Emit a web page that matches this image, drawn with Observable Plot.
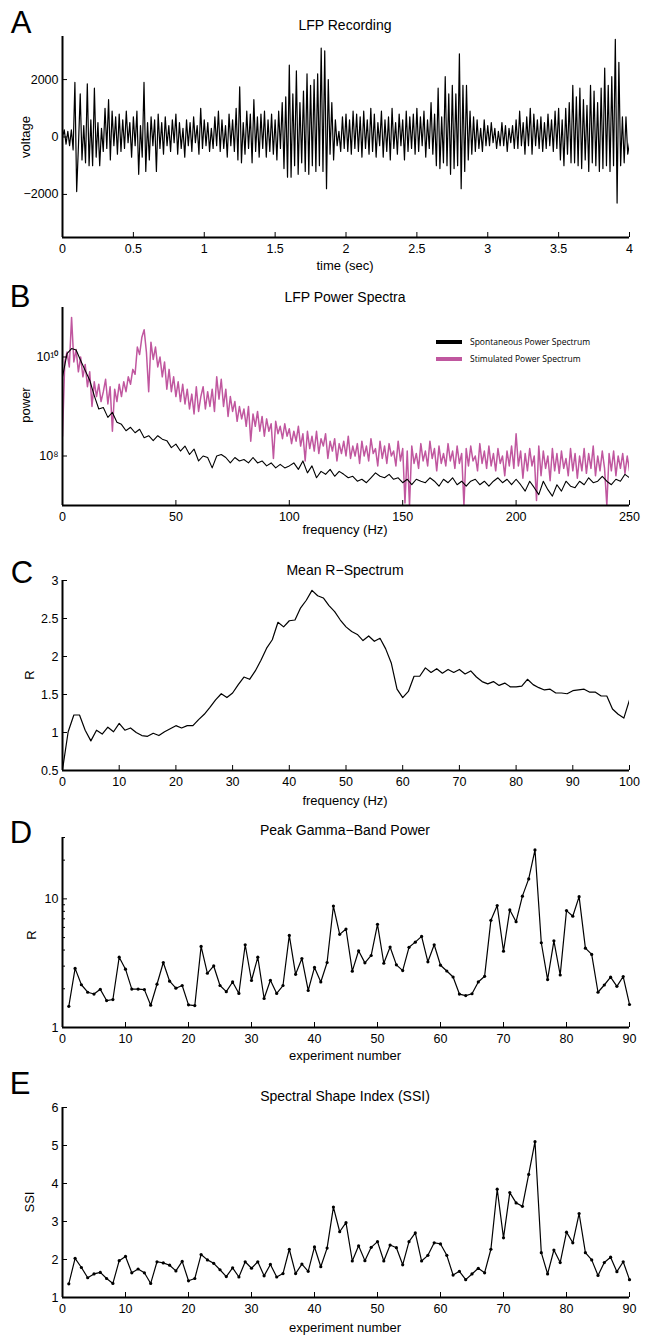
<!DOCTYPE html>
<html><head><meta charset="utf-8">
<script src="https://cdn.jsdelivr.net/npm/d3@7"></script>
<script src="https://cdn.jsdelivr.net/npm/@observablehq/plot@0.6"></script>
<style>
body{margin:0;background:#fff;}
#root{position:relative;width:655px;height:1335px;font-family:"Liberation Sans",Arial,sans-serif;color:#000;overflow:hidden;background:#fff}
.t{position:absolute;white-space:nowrap;transform:translate(-50%,-50%);line-height:1}
.sw{position:absolute;height:4px;width:26px}
</style></head><body><div id="root"></div>
<script>
// ---------- Panel A: LFP recording (voltage samples every 0.0125 s) ----------
const lfpStep = 0.0125;
const lfpVoltage = [
  0,250,-250,200,-300,250,-450,1900,
  -1900,-300,1500,-800,400,-900,1850,-1000,
  600,-1000,1700,-700,500,-1000,300,-500,
  1000,-400,1300,-800,900,-300,700,-600,
  800,-500,600,-400,900,-200,500,-700,
  700,-300,900,-1300,400,-700,1900,-1200,
  500,-800,700,-300,600,-1200,800,-400,
  500,-600,700,-300,400,-500,600,-200,
  800,-600,500,-400,300,-700,600,-300,
  500,-500,700,-200,400,-600,1000,-400,
  600,-300,500,-500,300,-400,700,-300,
  900,-500,600,-400,400,-700,800,-300,
  600,-500,1000,-800,1750,-900,500,-600,
  900,-400,800,-900,1300,-500,700,-700,
  800,-400,900,-700,600,-500,800,-600,
  600,-800,900,-400,1200,-1100,1400,-1400,
  2500,-1400,1500,-1000,2300,-1300,1200,-900,
  1600,-1200,2200,-1300,1800,-1000,2000,-1200,
  2200,-1000,3100,-1200,3000,-1800,2000,-600,
  1200,-800,600,-300,200,-500,700,-400,
  800,-500,600,-600,900,-400,800,-500,
  700,-700,900,-400,600,-600,1000,-500,
  800,-700,500,-300,900,-700,600,-500,
  700,-800,1000,-400,500,-600,800,-300,
  600,-800,900,-500,700,-400,800,-600,
  1000,-500,700,-300,900,-700,600,-400,
  1200,-600,800,-1000,1700,-1100,700,-900,
  2100,-1000,1500,-1300,1800,-1100,1500,-1000,
  2900,-1800,1800,-1200,1800,-800,900,-600,
  700,-500,600,-400,300,-500,600,-300,
  400,-300,500,-200,300,-400,200,-300,
  500,-300,400,-500,300,-200,400,-400,
  600,-400,900,-300,500,-600,700,-300,
  1000,-600,800,-300,600,-400,700,-500,
  500,-400,800,-300,600,-500,900,-400,
  1000,-800,600,-1000,1000,-600,1200,-900,
  1800,-900,1400,-1000,1700,-1100,1300,-800,
  1100,-1200,1800,-900,1600,-1000,1200,-1200,
  1700,-1100,2400,-1000,1800,-1200,2100,-1000,
  3400,-2300,2600,-1000,700,-900,700,-600,
  -200
];
const aTimeTicks = [0,0.5,1,1.5,2,2.5,3,3.5,4];
const aVoltTicks = [-2000,0,2000];

// ---------- Panel B: power spectra (log10 of power) ----------
const spontStepHz = 2;
const spontLog10 = [
  9.6,10.07,10.17,10.14,9.93,9.73,9.53,9.22,8.95,8.98,
  8.78,8.88,8.68,8.64,8.51,8.58,8.47,8.54,8.37,8.41,
  8.31,8.41,8.34,8.31,8.17,8.24,8.1,8.2,8.03,8.14,
  7.9,8.0,7.97,7.76,8.0,8.03,7.97,7.86,7.97,7.9,
  7.93,7.86,7.97,7.86,7.9,7.8,7.86,7.76,7.83,7.76,
  7.8,7.86,7.73,7.9,7.66,7.8,7.56,7.69,7.63,7.73,
  7.59,7.69,7.63,7.56,7.59,7.49,7.53,7.46,7.56,7.66,
  7.59,7.56,7.63,7.53,7.56,7.46,7.53,7.42,7.53,7.49,
  7.46,7.56,7.49,7.39,7.53,7.46,7.56,7.42,7.49,7.39,
  7.49,7.53,7.42,7.49,7.39,7.49,7.56,7.46,7.53,7.42,
  7.53,7.42,7.29,7.49,7.36,7.22,7.49,7.32,7.19,7.42,
  7.29,7.49,7.39,7.36,7.49,7.42,7.56,7.46,7.49,7.59,
  7.49,7.42,7.53,7.49,7.63,7.56
];
const stimStepHz = 1;
const stimLog10 = [
  8.4,9.9,10.1,9.8,10.8,9.9,10.15,9.7,10.0,9.6,
  9.85,9.4,9.7,9.0,9.5,9.2,9.45,9.1,9.3,9.55,
  9.05,9.4,8.5,9.35,9.1,9.45,9.2,9.5,9.3,9.6,
  9.45,9.75,9.65,10.2,10.05,10.4,10.55,10.1,9.3,10.3,
  9.95,10.2,9.8,10.0,9.6,9.9,9.35,9.75,9.3,9.6,
  9.2,9.5,9.1,9.45,9.05,9.35,8.95,9.25,8.85,9.4,
  8.9,9.2,9.4,8.95,9.3,9.0,9.35,8.9,9.6,9.15,
  9.55,9.0,9.35,8.8,9.2,8.9,9.1,8.7,9.0,8.75,
  8.95,8.6,9.0,8.3,8.85,8.6,8.9,8.5,8.8,8.4,
  8.75,8.5,8.65,7.95,8.7,8.45,8.6,8.35,8.65,8.4,
  8.55,8.25,8.5,8.3,8.6,8.2,8.45,7.9,8.5,8.15,
  8.4,8.1,8.5,8.05,8.35,8.2,8.45,7.95,8.3,8.1,
  8.35,7.9,8.25,8.05,8.3,8.0,8.4,7.95,8.2,8.0,
  8.25,7.85,8.3,8.0,8.2,7.9,8.35,8.05,8.15,7.8,
  8.3,7.95,8.2,7.85,8.25,8.0,8.1,7.8,8.3,7.9,
  8.15,7.05,8.1,7.0,8.2,7.85,8.05,7.75,8.25,7.9,
  8.1,7.8,8.3,7.95,8.15,7.7,8.2,7.85,8.05,7.8,
  8.25,7.9,8.1,7.75,8.2,7.85,8.05,7.0,8.15,7.8,
  8.2,7.9,8.0,7.7,8.25,7.85,8.1,7.75,8.2,7.8,
  8.05,7.7,8.15,7.85,8.0,7.6,8.1,7.8,8.2,7.75,
  8.45,7.8,8.1,7.55,8.05,7.7,8.15,7.8,8.0,7.1,
  8.2,7.6,8.1,7.75,8.0,7.5,8.15,7.7,8.05,7.65,
  8.1,7.75,7.95,7.6,8.15,7.7,8.05,7.55,8.0,7.7,
  8.15,7.65,8.05,7.75,8.2,7.6,8.0,7.7,8.1,7.75,
  7.0,8.05,7.7,8.1,7.6,8.0,7.75,8.05,7.65,8.0,7.7
];
const bFreqTicks = [0,50,100,150,200,250];
const bPowerTicks = [1e8,1e10];
const bPowerLabels = ["10\u2078","10\u00b9\u2070"];
const legendNames = ["Spontaneous Power Spectrum","Stimulated Power Spectrum"];
const legendColors = ["#000000","#c0579f"];

// ---------- Panel C: mean R-spectrum, 1 Hz bins 0..100 ----------
const meanR = [
  0.51,1.01,1.23,1.23,1.03,0.89,1.03,0.98,1.07,1.01,
  1.12,1.03,1.06,1.00,0.96,0.95,0.99,0.96,1.01,1.05,
  1.09,1.06,1.09,1.09,1.17,1.24,1.33,1.43,1.51,1.46,
  1.52,1.63,1.73,1.70,1.81,1.95,2.11,2.22,2.45,2.39,
  2.47,2.48,2.64,2.74,2.87,2.80,2.77,2.67,2.59,2.48,
  2.39,2.33,2.29,2.21,2.27,2.20,2.24,2.10,1.91,1.57,
  1.46,1.54,1.74,1.74,1.85,1.79,1.84,1.78,1.83,1.79,
  1.83,1.77,1.81,1.73,1.67,1.64,1.67,1.62,1.65,1.60,
  1.60,1.61,1.70,1.63,1.59,1.56,1.57,1.52,1.52,1.51,
  1.55,1.56,1.57,1.53,1.53,1.48,1.48,1.31,1.24,1.19,
  1.43
];
const cFreqTicks = [0,10,20,30,40,50,60,70,80,90,100];
const cRTicks = [0.5,1,1.5,2,2.5,3];

// ---------- Panel D: peak gamma-band power per experiment ----------
const peakGammaR = [
  1.46,2.88,2.15,1.88,1.82,1.98,1.62,1.65,3.52,2.84,
  1.99,1.99,1.97,1.49,2.17,3.2,2.29,2.02,2.12,1.5,
  1.48,4.27,2.64,3.01,2.12,1.9,2.26,1.84,4.4,2.32,
  3.52,1.68,2.33,1.84,2.12,5.2,2.59,3.44,1.94,2.93,
  2.26,3.2,8.8,5.3,5.83,2.74,3.95,3.18,3.63,6.34,
  3.16,4.22,3.07,2.77,4.2,4.61,5.11,3.24,4.4,3.05,
  2.75,2.47,1.82,1.77,1.83,2.26,2.5,6.81,8.87,3.92,
  8.2,6.65,10.5,14.3,24.0,4.56,2.36,4.72,2.56,8.11,
  7.33,10.4,4.14,3.7,1.88,2.14,2.46,2.09,2.49,1.51
];
// ---------- Panel E: spectral shape index per experiment ----------
const ssi = [
  1.36,2.03,1.79,1.52,1.62,1.66,1.5,1.37,1.97,2.08,
  1.65,1.75,1.65,1.37,1.94,1.91,1.85,1.7,1.95,1.44,
  1.5,2.13,1.99,1.9,1.73,1.55,1.78,1.54,1.94,1.77,
  1.94,1.57,1.87,1.54,1.63,2.27,1.63,1.88,1.69,2.33,
  1.81,2.3,3.38,2.73,2.97,1.96,2.36,1.97,2.32,2.47,
  1.96,2.38,2.31,1.86,2.47,2.7,1.96,2.11,2.44,2.41,
  2.11,1.59,1.69,1.47,1.62,1.77,1.65,2.27,3.85,2.57,
  3.76,3.49,3.4,4.24,5.1,2.18,1.62,2.25,1.92,2.72,
  2.44,3.21,2.18,1.99,1.58,1.92,2.06,1.68,1.94,1.47
];
const expTicks = [0,10,20,30,40,50,60,70,80,90];
const dRTicks = [1,10];
const dRMinorTicks = [2,3,4,5,6,7,8,9,20,30];
const eSsiTicks = [1,2,3,4,5,6];

// ---------- tables ----------
const lfp = lfpVoltage.map((v,i) => ({t: i*lfpStep, v}));
const spont = spontLog10.map((e,i) => ({f: i*spontStepHz, p: 10**e}));
const stim = stimLog10.map((e,i) => ({f: i*stimStepHz, p: 10**e}));
const rSpec = meanR.map((r,i) => ({f: i, r}));
const gamma = peakGammaR.map((r,i) => ({n: i+1, r}));
const ssiRows = ssi.map((s,i) => ({n: i+1, s}));

const root = document.getElementById("root");
const FONT = '"Liberation Sans", Arial, sans-serif';
const fmt = d => d < 0 ? "\u2212" + Math.abs(d) : String(d);

function addText(txt, x, y, size, opts = {}) {
  const d = document.createElement("div");
  d.className = "t";
  d.textContent = txt;
  d.style.left = x + "px";
  d.style.top = y + "px";
  d.style.fontSize = size + "px";
  if (opts.rotate) d.style.transform = "translate(-50%,-50%) rotate(-90deg)";
  if (opts.family) d.style.fontFamily = opts.family;
  if (opts.left) { d.style.transform = "translate(0,-50%)"; }
  root.appendChild(d);
}

function addPanel(frameTop, frameH, cfg) {
  const mt = 10, mb = 40;
  const marks = [
    ...cfg.marks,
    Plot.ruleX([cfg.xDomain[0]], {stroke: "#000", strokeWidth: 2}),
    Plot.ruleY([cfg.yDomain[0]], {stroke: "#000", strokeWidth: 2}),
    Plot.axisX(cfg.xTicks, {tickSize: -5, tickPadding: 12, tickFormat: cfg.xFormat || fmt, label: null, strokeWidth: 1}),
    Plot.axisY(cfg.yTicks, {tickSize: -5, tickPadding: 9, tickFormat: cfg.yFormat || fmt, label: null, strokeWidth: 1})
  ];
  if (cfg.yMinor) marks.push(Plot.axisY(cfg.yMinor, {tickSize: -3, tickFormat: () => null, label: null, strokeWidth: 1}));
  const svg = Plot.plot({
    width: 655, height: mt + frameH + mb,
    marginLeft: 62, marginRight: 26, marginTop: mt, marginBottom: mb,
    style: {fontFamily: FONT, fontSize: "12.5px", color: "#000", background: "transparent", overflow: "visible"},
    x: {domain: cfg.xDomain},
    y: {domain: cfg.yDomain, type: cfg.yType || "linear"},
    marks
  });
  svg.style.position = "absolute";
  svg.style.left = "0px";
  svg.style.top = (frameTop - mt) + "px";
  root.appendChild(svg);
}

// Panel A
addPanel(36, 201, {
  xDomain: [0, 4], yDomain: [-3500, 3500],
  xTicks: aTimeTicks, yTicks: aVoltTicks,
  marks: [Plot.line(lfp, {x: "t", y: "v", stroke: "#000", strokeWidth: 1.2, clip: true})]
});
// Panel B
addPanel(307, 198, {
  xDomain: [0, 250], yDomain: [1e7, 1e11], yType: "log",
  xTicks: bFreqTicks, yTicks: bPowerTicks,
  yFormat: d => bPowerLabels[bPowerTicks.indexOf(d)],
  marks: [
    Plot.line(stim, {x: "f", y: "p", stroke: legendColors[1], strokeWidth: 1.5, clip: true}),
    Plot.line(spont, {x: "f", y: "p", stroke: legendColors[0], strokeWidth: 1.1, clip: true})
  ]
});
// Panel C
addPanel(580, 190, {
  xDomain: [0, 100], yDomain: [0.5, 3],
  xTicks: cFreqTicks, yTicks: cRTicks,
  marks: [Plot.line(rSpec, {x: "f", y: "r", stroke: "#000", strokeWidth: 1.2, clip: true})]
});
// Panel D
addPanel(837, 190, {
  xDomain: [0, 90], yDomain: [1, 30], yType: "log",
  xTicks: expTicks, yTicks: dRTicks, yMinor: dRMinorTicks,
  marks: [
    Plot.line(gamma, {x: "n", y: "r", stroke: "#000", strokeWidth: 1.2}),
    Plot.dot(gamma, {x: "n", y: "r", r: 1.6, fill: "#000", stroke: "none"})
  ]
});
// Panel E
addPanel(1107, 190, {
  xDomain: [0, 90], yDomain: [1, 6],
  xTicks: expTicks, yTicks: eSsiTicks,
  marks: [
    Plot.line(ssiRows, {x: "n", y: "s", stroke: "#000", strokeWidth: 1.2}),
    Plot.dot(ssiRows, {x: "n", y: "s", r: 1.6, fill: "#000", stroke: "none"})
  ]
});

// Panel letters
[["A",21,22],["B",20,296],["C",22,572],["D",21,832],["E",20,1083]].forEach(([s,x,y]) => addText(s, x, y, 31));
// Titles
addText("LFP Recording", 345, 25, 14);
addText("LFP Power Spectra", 345, 297, 14);
addText("Mean R\u2212Spectrum", 345, 570, 14);
addText("Peak Gamma\u2212Band Power", 345, 830, 14);
addText("Spectral Shape Index (SSI)", 345, 1096, 14);
// Axis titles
addText("time (sec)", 345, 265, 13);
addText("frequency (Hz)", 345, 529, 13);
addText("frequency (Hz)", 345, 800, 13);
addText("experiment number", 345, 1055, 13);
addText("experiment number", 345, 1327, 13);
addText("voltage", 25, 137, 13, {rotate: true});
addText("power", 25, 405, 13, {rotate: true});
addText("R", 29, 675, 13, {rotate: true});
addText("R", 31, 935, 13, {rotate: true});
addText("SSI", 29, 1202, 13, {rotate: true});
// Legend (panel B)
legendNames.forEach((name, i) => {
  const y = 342 + i * 17;
  const sw = document.createElement("div");
  sw.className = "sw";
  sw.style.left = "436px";
  sw.style.top = (y - 2) + "px";
  sw.style.background = legendColors[i];
  root.appendChild(sw);
  addText(name, 470, y, 8.5, {left: true, family: '"Open Sans", sans-serif'});
});
</script></body></html>
